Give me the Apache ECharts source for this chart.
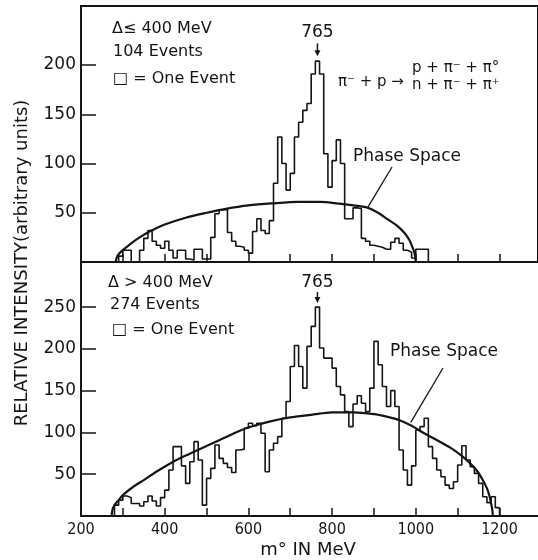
<!DOCTYPE html>
<html>
<head>
<meta charset="utf-8">
<script src="https://cdn.jsdelivr.net/npm/echarts@6/dist/echarts.min.js"></script>
<style>
html, body { margin: 0; padding: 0; background: #fff; }
#chart { width: 538px; height: 560px; }
</style>
</head>
<body>
<div id="chart"></div>
<script>
// Histogram bins are 10 MeV wide; each list gives the height of consecutive bins.
const binWidth = 10;

// Δ ≤ 400 MeV sample (104 events), bins starting at 280 MeV
const lowStart = 280;
const lowCounts = [
  0, 6, 12, 12, 0, 0, 12, 24, 32, 21,
  17, 14, 21, 12, 4, 12, 12, 3, 2, 13,
  13, 3, 3, 25, 49, 53, 53, 30, 21, 16,
  15, 12, 9, 31, 44, 32, 29, 42, 80, 127,
  100, 73, 90, 127, 142, 154, 161, 191, 204, 191,
  110, 76, 103, 124, 100, 44, 44, 55, 54, 24,
  21, 17, 16, 15, 13, 13, 20, 24, 19, 12,
  10, 4, 13, 13, 13
];

// Δ > 400 MeV sample (274 events), bins starting at 280 MeV
const highStart = 280;
const highCounts = [
  13, 19, 24, 22, 15, 15, 12, 17, 24, 18,
  12, 22, 31, 55, 83, 83, 60, 39, 65, 89,
  67, 13, 45, 57, 85, 69, 63, 58, 52, 79,
  80, 105, 111, 108, 111, 99, 53, 79, 87, 95,
  117, 137, 179, 204, 179, 153, 203, 227, 250, 201,
  189, 189, 177, 155, 145, 125, 107, 134, 144, 135,
  125, 153, 209, 181, 155, 131, 150, 131, 79, 55,
  37, 60, 103, 107, 117, 83, 69, 55, 47, 37,
  33, 41, 61, 84, 67, 59, 51, 39, 23, 16,
  23, 10
];

// Phase-space curves: [mass (MeV), intensity]
const lowPhase = [
  [283, 0], [285, 4], [290, 8], [300, 12], [320, 19], [340, 25], [364, 31],
  [400, 38], [450, 45], [500, 50], [546, 54], [600, 57.5], [656, 59.5],
  [720, 61], [770, 61], [822, 59], [860, 57], [886, 55], [910, 50],
  [934, 43], [955, 37], [974, 29], [985, 22], [992, 15], [997, 9],
  [1000, 0]
];
const highPhase = [
  [273, 0], [275, 7], [278, 11], [283, 15], [290, 19], [300, 25], [325, 35],
  [350, 43], [380, 53], [410, 62], [440, 70], [475, 78], [505, 85],
  [540, 93], [570, 100], [600, 106], [650, 113], [700, 118], [750, 121],
  [800, 124], [850, 124], [900, 122], [930, 119], [960, 115], [990, 108],
  [1020, 99], [1050, 91], [1085, 81], [1110, 72], [1130, 63], [1148, 53],
  [1160, 43], [1170, 33], [1176, 24], [1180, 15], [1183, 7], [1184, 0]
];

// Axis ticks and labels
const massTicks = [300, 400, 500, 600, 700, 800, 900, 1000, 1100, 1200];
const massLabels = [200, 400, 600, 800, 1000, 1200];
const lowTicks = [50, 100, 150, 200];
const highTicks = [50, 100, 150, 200, 250];

const peakMass = 765;

function stepPoints(start, counts) {
  const pts = [[start, 0]];
  counts.forEach((c, i) => pts.push([start + i * binWidth, c]));
  pts.push([start + counts.length * binWidth, 0]);
  return pts;
}

const INK = '#151515';
const SANS = '"DejaVu Sans", "Liberation Sans", sans-serif';
const NARROW = '"Liberation Sans Narrow", "DejaVu Sans Condensed", "Liberation Sans", sans-serif';

const chart = echarts.init(document.getElementById('chart'), null, { renderer: 'canvas' });

function xAxisCfg(grid, withLabels) {
  return {
    type: 'value', gridIndex: grid, min: 200, max: 1292,
    axisLine: { show: true, onZero: false, lineStyle: { color: INK, width: 2 } },
    axisTick: { show: true, inside: true, length: 8, customValues: massTicks, lineStyle: { color: INK, width: 1.5 } },
    axisLabel: withLabels
      ? { show: true, customValues: massLabels, formatter: (v) => String(v), color: INK, fontFamily: NARROW, fontSize: 16, margin: 6 }
      : { show: false },
    splitLine: { show: false }
  };
}
function yAxisCfg(grid, max, ticks) {
  return {
    type: 'value', gridIndex: grid, min: 0, max: max,
    axisLine: { show: true, lineStyle: { color: INK, width: 2 } },
    axisTick: { show: true, inside: true, length: 15, customValues: ticks, lineStyle: { color: INK, width: 1.5 } },
    axisLabel: { show: true, customValues: ticks, color: INK, fontFamily: SANS, fontSize: 17, margin: 5 },
    splitLine: { show: false }
  };
}

chart.setOption({
  animation: false,
  backgroundColor: '#fff',
  grid: [
    { left: 81, top: 6, width: 460, height: 256, show: true, borderColor: INK, borderWidth: 2 },
    { left: 81, top: 262, width: 460, height: 254, show: false }
  ],
  xAxis: [xAxisCfg(0, false), xAxisCfg(1, true)],
  yAxis: [yAxisCfg(0, 260, lowTicks), yAxisCfg(1, 304, highTicks)],
  series: [
    {
      type: 'line', xAxisIndex: 0, yAxisIndex: 0, step: 'end', showSymbol: false,
      data: stepPoints(lowStart, lowCounts),
      lineStyle: { color: INK, width: 1.6 }
    },
    {
      type: 'line', xAxisIndex: 0, yAxisIndex: 0, smooth: 0.3, showSymbol: false,
      data: lowPhase, lineStyle: { color: INK, width: 2.2 }
    },
    {
      type: 'line', xAxisIndex: 1, yAxisIndex: 1, step: 'end', showSymbol: false,
      data: stepPoints(highStart, highCounts),
      lineStyle: { color: INK, width: 1.6 }
    },
    {
      type: 'line', xAxisIndex: 1, yAxisIndex: 1, smooth: 0.3, showSymbol: false,
      data: highPhase, lineStyle: { color: INK, width: 2.2 }
    }
  ]
});

// Annotations placed in data space where they point at the plot
const toUpper = (p) => chart.convertToPixel({ xAxisIndex: 0, yAxisIndex: 0 }, p);
const toLower = (p) => chart.convertToPixel({ xAxisIndex: 1, yAxisIndex: 1 }, p);

function text(x, y, str, size, align, extra) {
  return Object.assign({
    type: 'text', x: x, y: y,
    style: { text: str, fill: INK, font: size + 'px ' + SANS, align: align || 'left', verticalAlign: 'middle' }
  }, extra || {});
}
function arrow(tail, tip) {
  return [
    { type: 'line', shape: { x1: tail[0], y1: tail[1], x2: tip[0], y2: tip[1] - 4 }, style: { stroke: INK, lineWidth: 1.5 } },
    { type: 'polygon', shape: { points: [[tip[0] - 3, tip[1] - 6], [tip[0] + 3, tip[1] - 6], [tip[0], tip[1]]] }, style: { fill: INK } }
  ];
}
function leader(from, to) {
  return { type: 'line', shape: { x1: from[0], y1: from[1], x2: to[0], y2: to[1] }, style: { stroke: INK, lineWidth: 1.3 } };
}

const upperPeakLabel = toUpper([peakMass, 233]);
const lowerPeakLabel = toLower([peakMass, 279]);

chart.setOption({
  graphic: [
    text(112, 29, 'Δ≤ 400 MeV', 16),
    text(113, 52, '104 Events', 16),
    text(113, 79, '□ = One Event', 16),
    text(upperPeakLabel[0], upperPeakLabel[1], String(peakMass), 17, 'center'),
    ...arrow(toUpper([peakMass, 222]), toUpper([peakMass, 209])),
    text(338, 82, 'π⁻ + p →', 15),
    text(412, 68, 'p + π⁻ + π°', 15),
    text(412, 85, 'n + π⁻ + π⁺', 15),
    text(353, 157, 'Phase Space', 17),
    leader([392, 167], toUpper([886, 56])),

    text(108, 283, 'Δ > 400 MeV', 16),
    text(110, 305, '274 Events', 16),
    text(112, 330, '□ = One Event', 16),
    text(lowerPeakLabel[0], lowerPeakLabel[1], String(peakMass), 17, 'center'),
    ...arrow(toLower([peakMass, 268]), toLower([peakMass, 255])),
    text(390, 352, 'Phase Space', 17),
    leader([443, 368], toLower([988, 112])),

    text(22, 263, 'RELATIVE INTENSITY(arbitrary units)', 18, 'center', { rotation: Math.PI / 2 }),
    text(308, 550, 'm° IN MeV', 18, 'center')
  ]
});
</script>
</body>
</html>
